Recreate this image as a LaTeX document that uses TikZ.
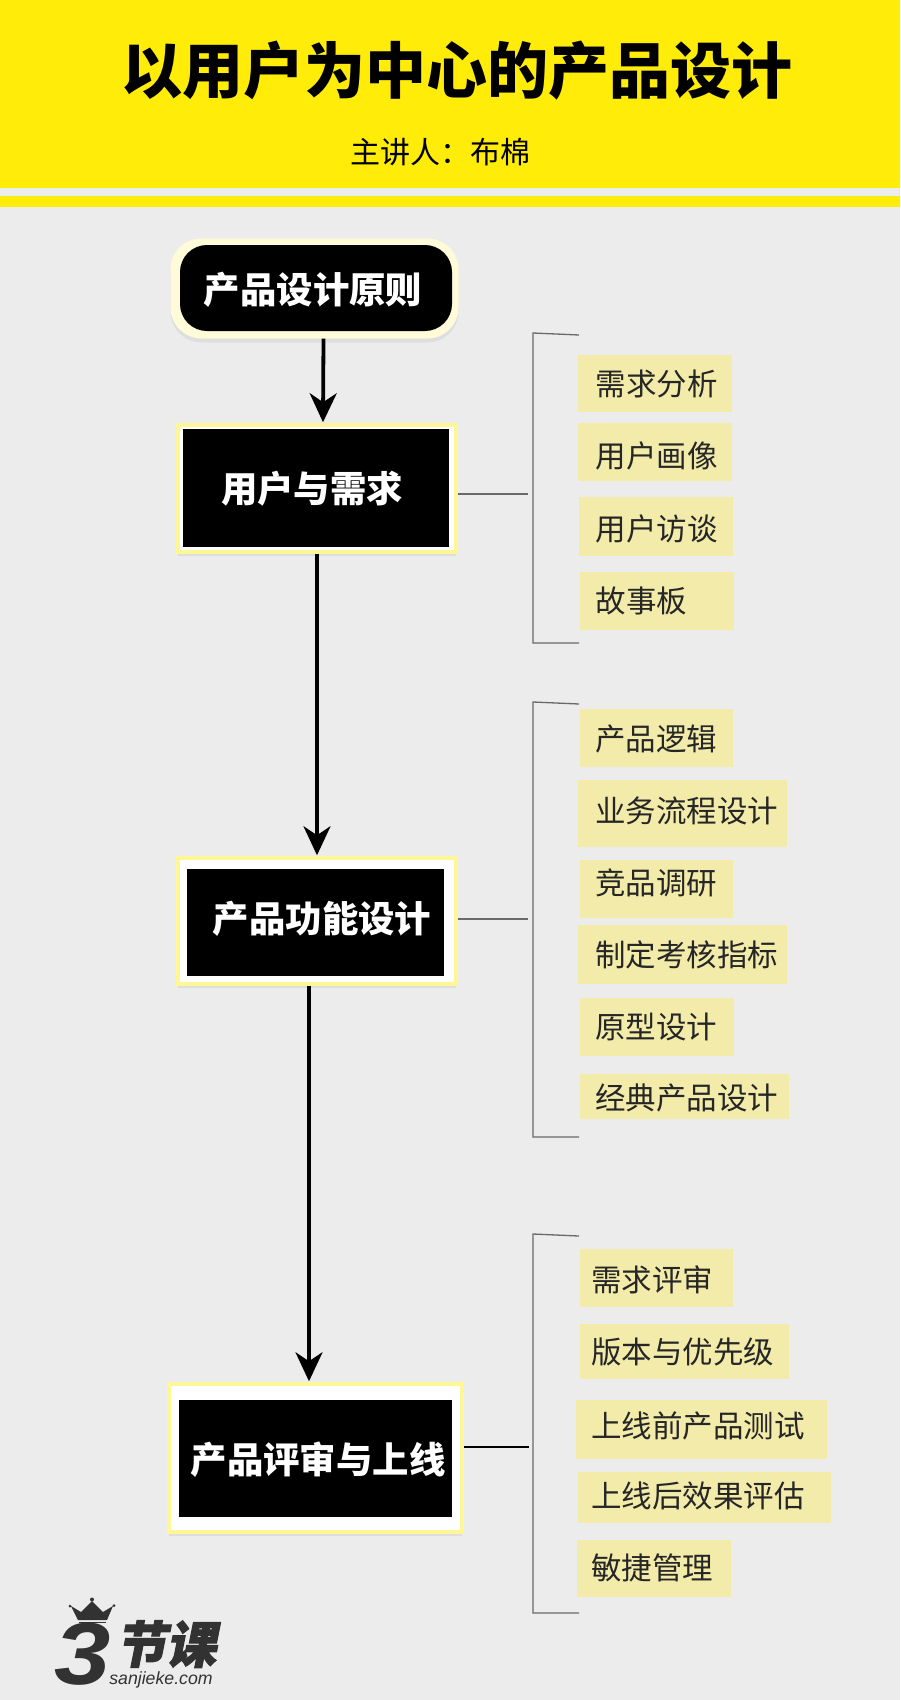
\documentclass[tikz,border=0pt]{standalone}
\usepackage{fontspec}
\setmainfont{Noto Sans CJK SC}
\setsansfont{Liberation Sans}
\newfontfamily\logofont{Noto Sans CJK SC}[BoldFeatures={FakeSlant=0.2,FakeBold=2}]
\usetikzlibrary{arrows.meta,shadows}
\definecolor{bannery}{RGB}{255,236,8}
\definecolor{pagegrey}{RGB}{236,236,237}
\definecolor{framey}{RGB}{255,246,150}
\definecolor{softy}{RGB}{255,251,216}
\definecolor{tagy}{RGB}{242,235,170}
\definecolor{rulegrey}{RGB}{105,105,105}
\definecolor{logogrey}{RGB}{50,50,50}

\begin{document}
\begin{tikzpicture}[
  x=1pt,y=-1pt,
  frame/.style={draw=framey,fill=white,line width=3.5pt,inner sep=0pt,
                drop shadow={opacity=.12,shadow xshift=0pt,shadow yshift=-4pt}},
  core/.style={fill=black,draw=none,inner sep=0pt},
  headtxt/.style={text=white,inner sep=0pt,font=\fontsize{36.4}{36.4}\selectfont\bfseries},
  tag/.style={fill=tagy,draw=none,inner sep=0pt},
  tagtxt/.style={anchor=west,inner sep=0pt,text=black!85,font=\fontsize{30.5}{30.5}\selectfont},
  ar/.style={-{Stealth[length=29pt,width=27pt,inset=9pt]},line width=3.8pt,draw=black},
  link/.style={line width=1.3pt,draw=rulegrey},
  brk/.style={line width=1.3pt,draw=rulegrey}]

\useasboundingbox (0,0) rectangle (900,1700);
\fill[pagegrey] (0,0) rectangle (900,1700);
\fill[bannery] (0,0) rectangle (900,188);
\fill[bannery] (0,196) rectangle (900,207);

\node[inner sep=0pt,font=\fontsize{61}{61}\selectfont\bfseries] (title) at (457,71) {以用户为中心的产品设计};
\node[inner sep=0pt,font=\fontsize{30}{30}\selectfont] (speaker) at (440,152) {主讲人：布棉};

% start node
\node[fill=softy,rounded corners=31pt,inner sep=0pt,minimum width=288pt,minimum height=100pt,
      drop shadow={opacity=.12,shadow xshift=0pt,shadow yshift=-4pt}] (b0) at (314.5,288.5) {};
\node[core,rounded corners=27pt,minimum width=272pt,minimum height=86pt] (c0) at (316,288) {};
\node[headtxt] (t0) at (313,290) {产品设计原则};

% main boxes
\node[frame,minimum width=278pt,minimum height=127pt] (b1) at (317,488.5) {};
\node[core,minimum width=266pt,minimum height=118pt] (c1) at (316,488) {};
\node[headtxt] (t1) at (312,489) {用户与需求};

\node[frame,minimum width=278pt,minimum height=126pt] (b2) at (317,921) {};
\node[core,minimum width=257pt,minimum height=107pt] (c2) at (315.5,922.5) {};
\node[headtxt] (t2) at (322,919) {产品功能设计};

\node[frame,minimum width=293pt,minimum height=148pt] (b3) at (315.5,1458) {};
\node[core,minimum width=273pt,minimum height=117pt] (c3) at (315.5,1458.5) {};
\node[headtxt] (t3) at (318,1460) {产品评审与上线};

\draw[ar] ([xshift=9pt]b0.south) -- ([xshift=6pt,yshift=1pt]b1.north);
\draw[ar] (b1.south) -- ([yshift=1pt]b2.north);
\draw[ar] ([xshift=-8pt]b2.south) -- ([xshift=-6.5pt,yshift=1pt]b3.north);

% brackets
\coordinate (j1) at (528,494);
\coordinate (j2) at (528,919);
\coordinate (j3) at (529,1447);
\coordinate (k1t) at (579,335);
\coordinate (k1b) at (579,643);
\coordinate (k2t) at (579,704);
\coordinate (k2b) at (579,1137);
\coordinate (k3t) at (579,1236);
\coordinate (k3b) at (579,1613);
\draw[link] (j1 -| b1.east) -- (j1);
\draw[link] (j2 -| b2.east) -- (j2);
\draw[line width=2pt,draw=black] (j3 -| b3.east) -- (j3);
\draw[brk] (k1t) -- (533,333) -- (533,643) -- (k1b);
\draw[brk] (k2t) -- (533,702) -- (533,1137) -- (k2b);
\draw[brk] (k3t) -- (533,1234) -- (533,1613) -- (k3b);

% tags
\foreach \nm/\xa/\ya/\xb/\yb/\tx/\ty/\lbl in {
  a1/578/355/732/412/595.5/384/需求分析,
  a2/578/423/732/481/595.5/456/用户画像,
  a3/579/497/733/556/595.5/529/用户访谈,
  a4/580/572/734/630/595.5/601/故事板,
  d1/580/709/733/767/595/739/产品逻辑,
  d2/578/780/787/847/595/811/业务流程设计,
  d3/580/860/733/918/595/883/竞品调研,
  d4/578/925/787/984/595/955/制定考核指标,
  d5/580/998/734/1056/595/1027/原型设计,
  d6/580/1074/789/1119/595/1098/经典产品设计,
  e1/580/1249/733/1307/591/1280/需求评审,
  e2/580/1324/789/1379/591/1352/版本与优先级,
  e3/576/1400/827/1459/591/1426/上线前产品测试,
  e4/578/1472/831/1523/591/1496/上线后效果评估,
  e5/577/1540/731/1597/591/1568/敏捷管理}{
  \node[tag,minimum width={(\xb-\xa)*1pt},minimum height={(\yb-\ya)*1pt}] (\nm) at ({(\xa+\xb)/2},{(\ya+\yb)/2}) {};
  \node[tagtxt] (\nm t) at (\tx,\ty) {\lbl};
}

% logo
\fill[logogrey] (71,1606) -- (81,1612) -- (92,1601) -- (103,1612) -- (113,1606) -- (107,1620) -- (78,1620) -- cycle;
\draw[logogrey,line width=1pt] (79,1622) -- (106,1622);
\fill[logogrey] (70,1606) circle (1.5) (92,1599.5) circle (2) (114,1605.5) circle (1.5);
\node[inner sep=0pt,text=logogrey,xscale=1.15,font=\fontsize{88}{88}\selectfont\sffamily\bfseries\itshape] (logo3) at (83,1654) {3};
\node[inner sep=0pt,text=logogrey,font=\fontsize{50}{50}\selectfont\logofont\bfseries] (logot) at (166,1644) {节课};
\node[inner sep=0pt,text=logogrey,font=\fontsize{17.7}{17.7}\selectfont\sffamily\itshape] (logos) at (161,1680) {sanjieke.com};
\end{tikzpicture}
\end{document}
